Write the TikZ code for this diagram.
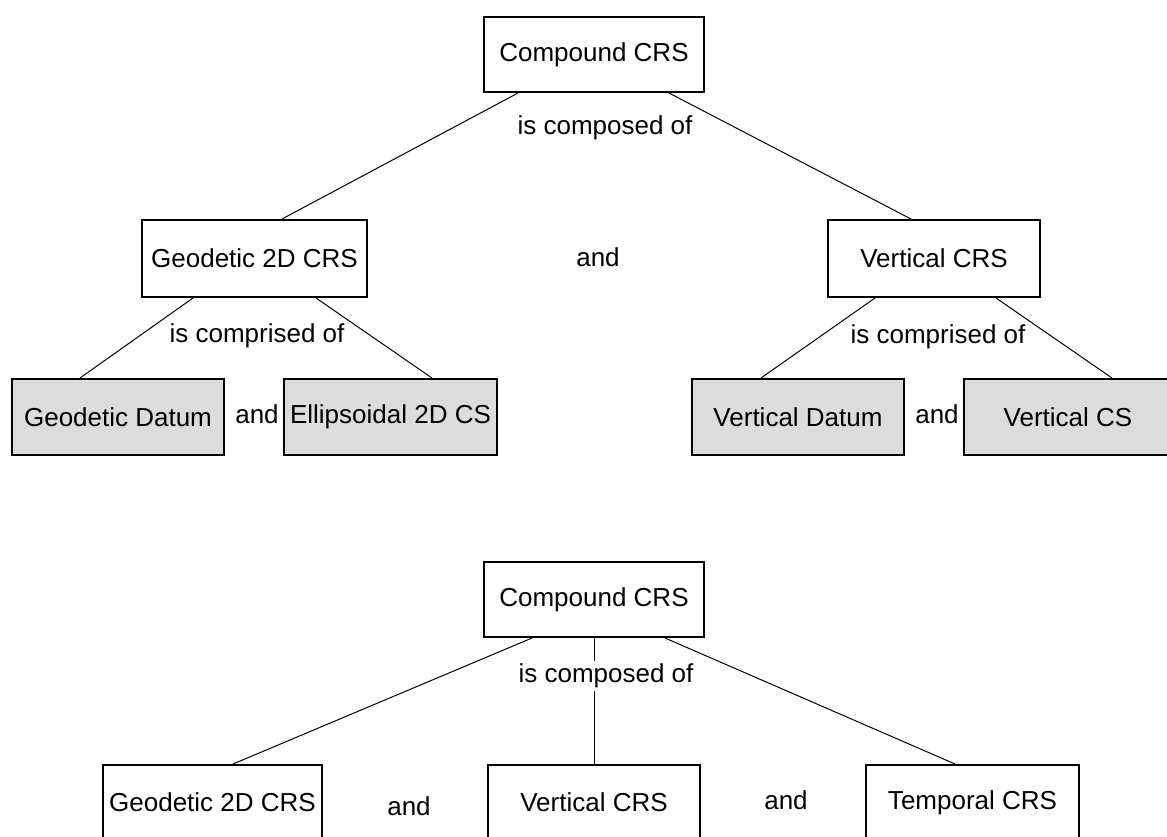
\documentclass[tikz,border=0pt]{standalone}
\usepackage{fontspec}
\setmainfont{Liberation Sans}
\definecolor{boxgray}{RGB}{220,220,220}
\tikzset{
  box/.style={draw, line width=2pt, fill=white, inner sep=0pt,
              minimum height=75pt, font=\fontsize{26}{31}\selectfont},
  part/.style={box, fill=boxgray},
  link/.style={line width=1pt},
  lbl/.style={inner sep=1pt, font=\fontsize{26}{31}\selectfont},
}
\begin{document}
\begin{tikzpicture}[x=1pt,y=-1pt]
\useasboundingbox (0,0) rectangle (1167,836);
\begin{scope}
\clip (0,0) rectangle (1167,836);

% ---- compound CRS made of a geodetic 2D CRS and a vertical CRS ----
\node[box, minimum width=220pt] (cA) at (594,54.5) {Compound CRS};
\node[box, minimum width=225pt, minimum height=77pt] (gA) at (254.5,258.5) {Geodetic 2D CRS};
\node[box, minimum width=212pt, minimum height=77pt] (vA) at (934,258.5) {Vertical CRS};
\node[part, minimum width=212pt, minimum height=76pt] (gd) at (118,417) {Geodetic Datum};
\node[part, minimum width=213pt, minimum height=76pt] (es) at (390.5,417) {Ellipsoidal 2D CS};
\node[part, minimum width=212pt, minimum height=76pt] (vd) at (798,417) {Vertical Datum};
\node[part, minimum width=208pt, minimum height=76pt] (vc) at (1068,417) {Vertical CS};

\draw[link] ([xshift=-76pt]cA.south) -- ([xshift=27.5pt]gA.north);
\draw[link] ([xshift=75pt]cA.south) -- ([xshift=-23pt]vA.north);
\draw[link] ([xshift=-61.5pt]gA.south) -- ([xshift=-38pt]gd.north);
\draw[link] ([xshift=61.5pt]gA.south) -- ([xshift=41.5pt]es.north);
\draw[link] ([xshift=-59pt]vA.south) -- ([xshift=-37pt]vd.north);
\draw[link] ([xshift=62pt]vA.south) -- ([xshift=44pt]vc.north);

\node[lbl] (lc1) at (605,128) {is composed of};
\node[lbl] (la1) at (598,257) {and};
\node[lbl] (lg)  at (257,336) {is comprised of};
\node[lbl] (la2) at (257,414) {and};
\node[lbl] (lv)  at (938,337) {is comprised of};
\node[lbl] (la3) at (937,414) {and};

% ---- compound CRS made of three CRSs ----
\node[box, minimum width=220pt] (cB) at (594,599.5) {Compound CRS};
\node[box, minimum width=219pt] (gB) at (212.5,802.5) {Geodetic 2D CRS};
\node[box, minimum width=212pt] (vB) at (594,802.5) {Vertical CRS};
\node[box, minimum width=213pt] (tB) at (972.5,802.5) {Temporal CRS};

\draw[link] ([xshift=-62pt]cB.south) -- ([xshift=20.5pt]gB.north);
\draw[link] (cB.south) -- (vB.north);
\draw[link] ([xshift=71pt]cB.south) -- ([xshift=-17.5pt]tB.north);

\node[lbl, fill=white, inner sep=3pt] (lc2) at (606,676) {is composed of};
\node[lbl] (la4) at (409,806) {and};
\node[lbl] (la5) at (786,800) {and};
\end{scope}
\end{tikzpicture}
\end{document}
